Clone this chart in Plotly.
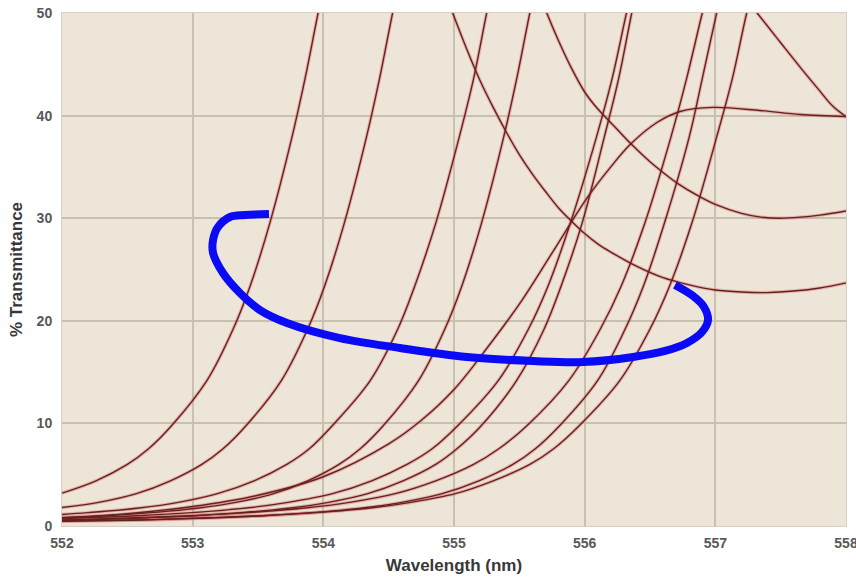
import plotly.graph_objects as go

# ---- data (wavelength nm, % transmittance) ----
r1_x = [552.00, 552.26, 552.50, 552.66, 552.84, 553.11, 553.31, 553.44, 553.59, 553.76, 553.86, 553.96, 554.06]
r1_y = [3.2, 4.4, 6.0, 7.5, 9.8, 14.2, 19.2, 23.4, 29.5, 37.9, 43.6, 50.0, 56.0]
r2_x = [552.00, 552.28, 552.57, 552.83, 553.07, 553.23, 553.41, 553.68, 553.88, 554.01, 554.16, 554.33, 554.43, 554.53, 554.63]
r2_y = [1.8, 2.3, 3.15, 4.4, 6.0, 7.5, 9.8, 14.2, 19.2, 23.4, 29.5, 37.9, 43.6, 50.0, 56.0]
r3_x = [552.00, 552.20, 552.59, 552.89, 553.19, 553.47, 553.72, 553.89, 554.07, 554.36, 554.57, 554.70, 554.86, 555.04, 555.15, 555.25, 555.35]
r3_y = [1.12, 1.3, 1.75, 2.3, 3.15, 4.4, 6.0, 7.5, 9.8, 14.2, 19.2, 23.4, 29.5, 37.9, 43.6, 50.0, 56.0]
r4_x = [552.00, 552.33, 552.68, 553.05, 553.33, 553.62, 553.88, 554.12, 554.28, 554.46, 554.73, 554.93, 555.06, 555.21, 555.38, 555.48, 555.58, 555.68]
r4_y = [0.8, 1.0, 1.3, 1.75, 2.3, 3.15, 4.4, 6.0, 7.5, 9.8, 14.2, 19.2, 23.4, 29.5, 37.9, 43.6, 50.0, 56.0]
r5_x = [552.00, 552.18, 552.58, 552.99, 553.41, 553.73, 554.07, 554.37, 554.64, 554.83, 555.03, 555.34, 555.57, 555.72, 555.89, 556.09, 556.21, 556.32, 556.43]
r5_y = [0.72, 0.8, 1.0, 1.3, 1.75, 2.3, 3.15, 4.4, 6.0, 7.5, 9.8, 14.2, 19.2, 23.4, 29.5, 37.9, 43.6, 50.0, 56.0]
r6_x = [552.00, 552.24, 552.65, 553.01, 553.37, 553.75, 554.04, 554.34, 554.61, 554.86, 555.02, 555.21, 555.48, 555.69, 555.82, 555.98, 556.15, 556.26, 556.36, 556.46]
r6_y = [0.56, 0.62, 0.8, 1.0, 1.3, 1.75, 2.3, 3.15, 4.4, 6.0, 7.5, 9.8, 14.2, 19.2, 23.4, 29.5, 37.9, 43.6, 50.0, 56.0]
r7_x = [552.00, 552.10, 552.58, 553.00, 553.42, 553.86, 554.20, 554.55, 554.86, 555.15, 555.34, 555.56, 555.88, 556.12, 556.28, 556.46, 556.66, 556.78, 556.90, 557.02]
r7_y = [0.6, 0.62, 0.8, 1.0, 1.3, 1.75, 2.3, 3.15, 4.4, 6.0, 7.5, 9.8, 14.2, 19.2, 23.4, 29.5, 37.9, 43.6, 50.0, 56.0]
r8_x = [552.00, 552.20, 552.73, 553.16, 553.53, 553.91, 554.30, 554.60, 554.91, 555.19, 555.45, 555.62, 555.81, 556.10, 556.31, 556.45, 556.61, 556.80, 556.90, 557.01, 557.12]
r8_y = [0.47, 0.5, 0.62, 0.8, 1.0, 1.3, 1.75, 2.3, 3.15, 4.4, 6.0, 7.5, 9.8, 14.2, 19.2, 23.4, 29.5, 37.9, 43.6, 50.0, 56.0]
r9_x = [552.00, 552.11, 552.68, 553.14, 553.54, 553.94, 554.36, 554.67, 555.01, 555.30, 555.58, 555.76, 555.96, 556.27, 556.50, 556.65, 556.82, 557.01, 557.13, 557.24, 557.36]
r9_y = [0.48, 0.5, 0.62, 0.8, 1.0, 1.3, 1.75, 2.3, 3.15, 4.4, 6.0, 7.5, 9.8, 14.2, 19.2, 23.4, 29.5, 37.9, 43.6, 50.0, 56.0]
hump_x = [552.0, 552.5, 553.0, 553.5, 554.0, 554.5, 554.75, 555.0, 555.25, 555.52, 555.75, 556.02, 556.2,
          556.35, 556.55, 556.73, 556.98, 557.34, 557.65, 558.0]
hump_y = [0.8, 1.2, 1.9, 3.0, 4.8, 8.0, 10.3, 13.3, 17.3, 22.0, 26.6, 32.0, 35.0,
          37.2, 39.3, 40.4, 40.8, 40.5, 40.1, 39.9]
fall_a_x = [554.92, 554.99, 555.10, 555.20, 555.30, 555.40, 555.50, 555.60, 555.70, 555.80, 555.90, 556.00,
            556.10, 556.20, 556.40, 556.60, 556.80, 557.00, 557.20, 557.40, 557.60, 557.80, 558.00]
fall_a_y = [52.4, 50.0, 46.4, 43.4, 40.8, 38.4, 36.2, 34.3, 32.6, 31.0, 29.7, 28.5,
            27.5, 26.7, 25.3, 24.2, 23.5, 23.0, 22.8, 22.75, 22.9, 23.2, 23.7]
fall_b_x = [555.65, 555.71, 555.80, 555.90, 556.00, 556.07, 556.14, 556.25, 556.35, 556.50, 556.60, 556.71,
            556.88, 557.00, 557.20, 557.35, 557.49, 557.65, 557.80, 558.00]
fall_b_y = [52.0, 50.0, 47.3, 44.6, 42.3, 41.1, 40.1, 38.65, 37.3, 35.5, 34.45, 33.4,
            32.1, 31.35, 30.47, 30.1, 30.0, 30.1, 30.3, 30.7]
fall_c_x = [557.20, 557.32, 557.50, 557.65, 557.78, 557.90, 558.00]
fall_c_y = [52.0, 50.0, 47.1, 44.7, 42.7, 40.9, 39.9]

# hand-drawn blue annotation loop
loop_x = [553.584, 553.40, 553.286, 553.194, 553.156, 553.156, 553.232, 553.362, 553.515,
          553.722, 554.127, 554.587, 555.099, 555.605, 555.987, 556.370, 556.615, 556.783,
          556.898, 556.944, 556.913, 556.829, 556.691]
loop_y = [30.41, 30.31, 30.12, 29.14, 27.88, 26.61, 24.66, 22.71, 21.05,
          19.79, 18.32, 17.35, 16.47, 16.08, 15.98, 16.47, 17.06, 17.84,
          18.91, 20.08, 21.35, 22.42, 23.49]

x_ticks = [552, 553, 554, 555, 556, 557, 558]
y_ticks = [0, 10, 20, 30, 40, 50]

curves = [(r1_x, r1_y), (r2_x, r2_y), (r3_x, r3_y), (r4_x, r4_y), (r5_x, r5_y),
          (r6_x, r6_y), (r7_x, r7_y), (r8_x, r8_y), (r9_x, r9_y), (hump_x, hump_y),
          (fall_a_x, fall_a_y), (fall_b_x, fall_b_y), (fall_c_x, fall_c_y)]

fig = go.Figure()
for cx, cy in curves:
    fig.add_trace(go.Scatter(x=cx, y=cy, mode="lines", hoverinfo="skip",
                             line=dict(color="rgba(215,90,90,0.35)", width=3.5, shape="spline", smoothing=1.0)))
for cx, cy in curves:
    fig.add_trace(go.Scatter(x=cx, y=cy, mode="lines",
                             line=dict(color="#662020", width=1.4, shape="spline", smoothing=1.0)))

fig.add_trace(go.Scatter(x=loop_x, y=loop_y, mode="lines",
                         line=dict(color="#0a0af5", width=8, shape="spline", smoothing=1.0)))

tick_font = dict(family="Liberation Sans, Arial, sans-serif", size=14, color="#585858", weight="bold")
title_font = dict(family="Liberation Sans, Arial, sans-serif", size=17, color="#383838", weight="bold")

fig.update_layout(
    width=856, height=578,
    margin=dict(l=62, r=10, t=13, b=52, autoexpand=False),
    paper_bgcolor="white",
    plot_bgcolor="#ece5d8",
    showlegend=False,
    xaxis=dict(range=[552, 558], tickvals=x_ticks, ticktext=[str(v) for v in x_ticks],
               showgrid=True, gridcolor="#c9c1b0", gridwidth=1.5, zeroline=False,
               showline=True, linecolor="#d6d0c4", linewidth=1, mirror=True,
               ticks="", ticklabelstandoff=4, tickfont=tick_font, automargin=False,
               ticklabeloverflow="allow",
               title=dict(text="Wavelength (nm)", font=title_font, standoff=9)),
    yaxis=dict(range=[0, 50], tickvals=y_ticks, ticktext=[str(v) for v in y_ticks],
               showgrid=True, gridcolor="#c9c1b0", gridwidth=1.5, zeroline=False,
               showline=True, linecolor="#d6d0c4", linewidth=1, mirror=True,
               ticks="", ticklabelstandoff=6, tickfont=tick_font, automargin=False,
               ticklabeloverflow="allow",
               title=dict(text="% Transmittance", font=title_font, standoff=9)),
)

# remove the default page margin so the figure fills the window exactly
fig.write_html("out.html", config={"displayModeBar": False},
               post_script="document.body.style.margin='0';")
